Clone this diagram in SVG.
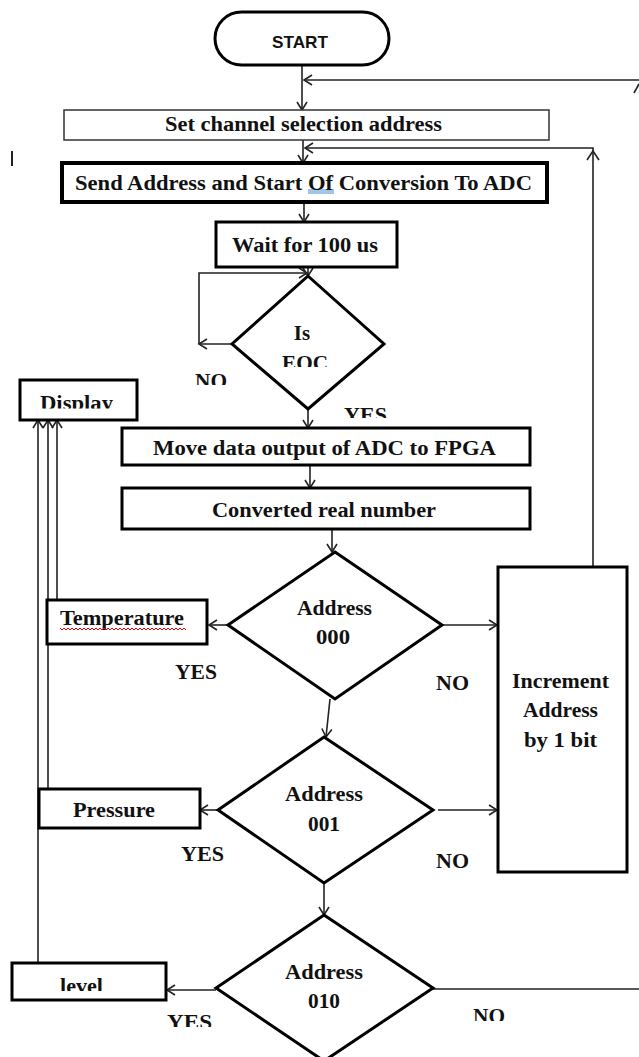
<svg xmlns="http://www.w3.org/2000/svg" width="639" height="1057" viewBox="0 0 639 1057">
<style>
.box{fill:#fff;stroke:#000;stroke-width:3}
.thin{fill:#fff;stroke:#333;stroke-width:1.5}
.dia{fill:#fff;stroke:#000;stroke-width:3;stroke-linejoin:miter}
.ln{fill:none;stroke:#222;stroke-width:1.6}
.t{font-family:"Liberation Serif","Times New Roman",serif;font-weight:bold;font-size:20px;fill:#111}
.s{font-family:"Liberation Sans",Arial,sans-serif;font-weight:bold;font-size:17px;fill:#111}
</style>
<defs>
<marker id="ar" viewBox="-10 -6 12 12" refX="0" refY="0" markerWidth="12" markerHeight="12" markerUnits="userSpaceOnUse" orient="auto">
<path d="M-8,-5 L0,0 L-8,5" fill="none" stroke="#222" stroke-width="1.6"/>
</marker>
<clipPath id="cEOC"><rect x="250" y="340" width="120" height="27"/></clipPath>
<clipPath id="cNO1"><rect x="180" y="360" width="60" height="25"/></clipPath>
<clipPath id="cYES1"><rect x="330" y="400" width="70" height="18"/></clipPath>
<clipPath id="cDisp"><rect x="25" y="385" width="110" height="23.5"/></clipPath>
<clipPath id="cLev"><rect x="20" y="970" width="140" height="21"/></clipPath>
<clipPath id="cYES3"><rect x="160" y="1005" width="70" height="22"/></clipPath>
<clipPath id="cNO3"><rect x="465" y="1000" width="60" height="21"/></clipPath>
</defs>

<g id="connectors">
<path class="ln" d="M302,65 V110" marker-end="url(#ar)"/>
<path class="ln" d="M639,80 H304" marker-end="url(#ar)"/>
<path class="ln" d="M634,93 L639,84"/>
<path class="ln" d="M303,140 V163" marker-end="url(#ar)"/>
<path class="ln" d="M593,567 V148 H305" marker-end="url(#ar)"/>
<path class="ln" d="M587,160 L593,151 L599,160"/>
<path class="ln" d="M304,202 V222" marker-end="url(#ar)"/>
<path class="ln" d="M308,267 V276" marker-end="url(#ar)"/>
<path class="ln" d="M232,344 H199" marker-end="url(#ar)"/>
<path class="ln" d="M199,344 V273 H307" marker-end="url(#ar)"/>
<path class="ln" d="M308,409 V428" marker-end="url(#ar)"/>
<path class="ln" d="M310,465 V488" marker-end="url(#ar)"/>
<path class="ln" d="M332,529 V552" marker-end="url(#ar)"/>
<path class="ln" d="M228,625 H209" marker-end="url(#ar)"/>
<path class="ln" d="M442,625 H497" marker-end="url(#ar)"/>
<path class="ln" d="M330,699 L326,737" marker-end="url(#ar)"/>
<path class="ln" d="M218,810 H200" marker-end="url(#ar)"/>
<path class="ln" d="M438,810 H497" marker-end="url(#ar)"/>
<path class="ln" d="M324,883 V915" marker-end="url(#ar)"/>
<path class="ln" d="M216,990 H167" marker-end="url(#ar)"/>
<path class="ln" d="M433,989 H639"/>
<path class="ln" d="M57,600 V420" marker-end="url(#ar)"/>
<path class="ln" d="M48,789 V420" marker-end="url(#ar)"/>
<path class="ln" d="M38,963 V420" marker-end="url(#ar)"/>
<path class="ln" d="M12,151 V166" style="stroke-width:2"/>
</g>

<g id="start">
<rect x="215" y="12" width="174" height="53" rx="26.5" class="box"/>
<text class="s" x="272" y="48" textLength="56" lengthAdjust="spacingAndGlyphs">START</text>
</g>

<g id="set-channel">
<rect x="64" y="110" width="485" height="30" class="thin"/>
<text class="t" x="165" y="131" textLength="277" lengthAdjust="spacingAndGlyphs">Set channel selection address</text>
</g>

<g id="send-address">
<rect x="62" y="163" width="485" height="39" class="box" style="stroke-width:4"/>
<rect x="308" y="189" width="26" height="5" fill="#7fb2e5" opacity="0.75"/>
<text class="t" x="75" y="190" textLength="457" lengthAdjust="spacingAndGlyphs">Send Address and Start Of Conversion To ADC</text>
</g>

<g id="wait">
<rect x="216" y="222" width="181" height="45" class="box"/>
<text class="t" x="232" y="252" style="font-size:22px" textLength="146" lengthAdjust="spacingAndGlyphs">Wait for 100 us</text>
</g>

<g id="is-eoc">
<polygon points="308,276 384,344 308,409 232,344" class="dia"/>
<text class="t" x="302" y="340" style="font-size:21px" text-anchor="middle">Is</text>
<text class="t" x="282" y="370" style="font-size:22px" textLength="46" lengthAdjust="spacingAndGlyphs" clip-path="url(#cEOC)">EOC</text>
<text class="t" x="195" y="388" style="font-size:22px" textLength="32" lengthAdjust="spacingAndGlyphs" clip-path="url(#cNO1)">NO</text>
<text class="t" x="344" y="422" style="font-size:22px" textLength="43" lengthAdjust="spacingAndGlyphs" clip-path="url(#cYES1)">YES</text>
</g>

<g id="display">
<rect x="20" y="380" width="117" height="40" class="box"/>
<text class="t" x="40" y="410" textLength="73" lengthAdjust="spacingAndGlyphs" clip-path="url(#cDisp)">Display</text>
</g>

<g id="move-data">
<rect x="122" y="428" width="408" height="37" class="box"/>
<text class="t" x="153" y="455" textLength="343" lengthAdjust="spacingAndGlyphs">Move data output of ADC to FPGA</text>
</g>

<g id="converted">
<rect x="122" y="488" width="408" height="41" class="box"/>
<text class="t" x="212" y="517" textLength="224" lengthAdjust="spacingAndGlyphs">Converted real number</text>
</g>

<g id="address-000">
<polygon points="335,552 442,625 335,699 228,625" class="dia"/>
<text class="t" x="297" y="615" textLength="75" lengthAdjust="spacingAndGlyphs">Address</text>
<text class="t" x="316" y="644" textLength="34" lengthAdjust="spacingAndGlyphs">000</text>
<text class="t" x="175" y="679" textLength="42" lengthAdjust="spacingAndGlyphs">YES</text>
<text class="t" x="436" y="690" textLength="33" lengthAdjust="spacingAndGlyphs">NO</text>
</g>

<g id="temperature">
<rect x="47" y="600" width="160" height="44" class="box"/>
<text class="t" x="60" y="625" textLength="124" lengthAdjust="spacingAndGlyphs">Temperature</text>
<path d="M60,628 l2,2 l2,-2 l2,2 l2,-2 l2,2 l2,-2 l2,2 l2,-2 l2,2 l2,-2 l2,2 l2,-2 l2,2 l2,-2 l2,2 l2,-2 l2,2 l2,-2 l2,2 l2,-2 l2,2 l2,-2 l2,2 l2,-2 l2,2 l2,-2 l2,2 l2,-2 l2,2 l2,-2 l2,2 l2,-2 l2,2 l2,-2 l2,2 l2,-2 l2,2 l2,-2 l2,2 l2,-2 l2,2 l2,-2 l2,2 l2,-2 l2,2 l2,-2 l2,2 l2,-2 l2,2 l2,-2 l2,2 l2,-2 l2,2 l2,-2 l2,2 l2,-2 l2,2 l2,-2 l2,2 l2,-2 l2,2 l2,-2 l2,2" fill="none" stroke="#e00" stroke-width="1"/>
</g>

<g id="increment">
<rect x="498" y="567" width="129" height="305" class="box"/>
<text class="t" x="512" y="688" style="font-size:22px" textLength="97" lengthAdjust="spacingAndGlyphs">Increment</text>
<text class="t" x="523" y="717" style="font-size:22px" textLength="75" lengthAdjust="spacingAndGlyphs">Address</text>
<text class="t" x="524" y="747" style="font-size:22px" textLength="73" lengthAdjust="spacingAndGlyphs">by 1 bit</text>
</g>

<g id="address-001">
<polygon points="324,737 433,810 324,883 218,810" class="dia"/>
<text class="t" x="285" y="801" textLength="78" lengthAdjust="spacingAndGlyphs">Address</text>
<text class="t" x="308" y="831" textLength="32" lengthAdjust="spacingAndGlyphs">001</text>
<text class="t" x="181" y="861" textLength="43" lengthAdjust="spacingAndGlyphs">YES</text>
<text class="t" x="436" y="868" textLength="33" lengthAdjust="spacingAndGlyphs">NO</text>
</g>

<g id="pressure">
<rect x="39" y="789" width="161" height="39" class="box"/>
<text class="t" x="73" y="817" textLength="82" lengthAdjust="spacingAndGlyphs">Pressure</text>
</g>

<g id="address-010">
<polygon points="324,915 433,988 324,1061 216,988" class="dia"/>
<text class="t" x="285" y="979" textLength="78" lengthAdjust="spacingAndGlyphs">Address</text>
<text class="t" x="308" y="1008" textLength="32" lengthAdjust="spacingAndGlyphs">010</text>
<text class="t" x="167" y="1029" style="font-size:21px" textLength="45" lengthAdjust="spacingAndGlyphs" clip-path="url(#cYES3)">YES</text>
<text class="t" x="473" y="1023" style="font-size:21px" textLength="32" lengthAdjust="spacingAndGlyphs" clip-path="url(#cNO3)">NO</text>
</g>

<g id="level">
<rect x="12" y="963" width="154" height="37" class="box"/>
<text class="t" x="60" y="993" textLength="43" lengthAdjust="spacingAndGlyphs" clip-path="url(#cLev)">level</text>
</g>
</svg>
